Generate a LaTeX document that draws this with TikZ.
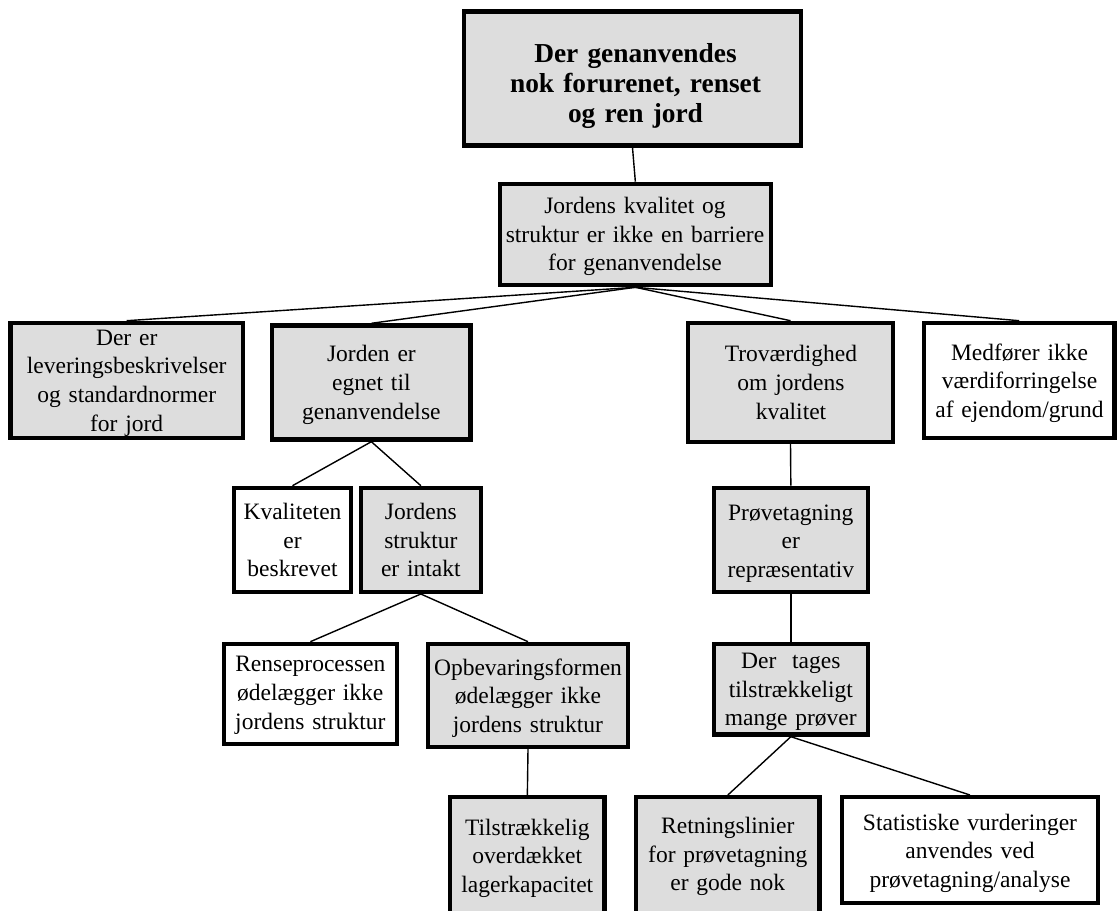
\documentclass[tikz,border=0pt]{standalone}
\usepackage{fontspec}
\setmainfont{Liberation Serif}
\definecolor{boxgray}{RGB}{221,221,221}
% \treebox{name}{style}{left}{top}{right}{bottom}: outer edges of a framed box
\newcommand\treebox[6]{%
  \node[#2, minimum width={(#5)-(#3)-4.3}, minimum height={(#6)-(#4)-4.3}]
    (#1) at ({((#3)+(#5))/2},{((#4)+(#6))/2}) {};}
\begin{document}
\begin{tikzpicture}[x=1pt,y=-1pt,
  box/.style={draw=black, line width=4.3pt, inner sep=0pt},
  graybox/.style={box, fill=boxgray},
  whitebox/.style={box, fill=white},
  lbl/.style={anchor=base, inner sep=0pt, align=center, text width=#1,
    font=\fontsize{23.5}{28.7}\selectfont},
  conn/.style={line width=1.4pt}]
\useasboundingbox (0,0) rectangle (1118,910);
\clip (0,0) rectangle (1118,910);

% boxes
\treebox{goal}{graybox}{462}{9.3}{803}{147.7}
\treebox{quality}{graybox}{497.7}{181.7}{773}{287.3}
\treebox{norms}{graybox}{8.3}{320.7}{245}{440}
\treebox{suited}{graybox}{270}{323.3}{472.7}{441.7}
\treebox{trust}{graybox}{686}{320.7}{895}{444}
\treebox{value}{whitebox}{921.7}{320.7}{1116.7}{440}
\treebox{described}{whitebox}{232}{485.7}{353}{594}
\treebox{intact}{graybox}{358.7}{485.7}{483}{594}
\treebox{cleaning}{whitebox}{221.7}{641.7}{399}{746}
\treebox{storage}{graybox}{426}{641.7}{630}{749}
\treebox{capacity}{graybox}{448}{795}{606.7}{925}
\treebox{sampling}{graybox}{711.7}{485.7}{870}{594}
\treebox{enough}{graybox}{711.7}{641.7}{870}{736.7}
\treebox{guidelines}{graybox}{634}{795}{821.7}{925}
\treebox{statistics}{whitebox}{840}{795}{1100}{905}

% connectors (their ends disappear under the thick frames)
\draw[conn] (goal.south) -- (quality.north);
\draw[conn] (quality.south) -- (norms.north);
\draw[conn] (quality.south) -- (suited.north);
\draw[conn] (quality.south) -- (trust.north);
\draw[conn] (quality.south) -- (value.north);
\draw[conn] (suited.south) -- (described.north);
\draw[conn] (suited.south) -- (intact.north);
\draw[conn] (intact.south) -- (cleaning.north);
\draw[conn] (intact.south) -- (storage.north);
\draw[conn] (storage.south) -- (capacity.north);
\draw[conn] (trust.south) -- (sampling.north);
\draw[conn] (sampling.south) -- (enough.north);
\draw[conn] (enough.south) -- (guidelines.north);
\draw[conn] (enough.south) -- (statistics.north);

% texts
\node[lbl=330, font=\bfseries\fontsize{27.4}{30}\selectfont] (goal-t) at (635.5,62)
  {Der genanvendes\\nok forurenet, renset\\og ren jord};
\node[lbl=270] (quality-t) at (635,213.3)
  {Jordens kvalitet og\\struktur er ikke en barriere\\for genanvendelse};
\node[lbl=230] (norms-t) at (126.7,345)
  {Der er\\leveringsbeskrivelser\\og standardnormer\\for jord};
\node[lbl=195] (suited-t) at (371.4,361.7)
  {Jorden er\\egnet til\\genanvendelse};
\node[lbl=200] (trust-t) at (791,361.7)
  {Troværdighed\\om jordens\\kvalitet};
\node[lbl=190] (value-t) at (1019.5,360)
  {Medfører ikke\\værdiforringelse\\af ejendom/grund};
\node[lbl=115] (described-t) at (292.5,519.3)
  {Kvaliteten\\er\\beskrevet};
\node[lbl=118] (intact-t) at (420.8,519.3)
  {Jordens\\struktur\\er intakt};
\node[lbl=172] (cleaning-t) at (310.3,671.7)
  {Renseprocessen\\ødelægger ikke\\jordens struktur};
\node[lbl=198] (storage-t) at (528,675)
  {Opbevaringsformen\\ødelægger ikke\\jordens struktur};
\node[lbl=152] (capacity-t) at (527.3,835)
  {Tilstrækkelig\\overdækket\\lagerkapacitet};
\node[lbl=152] (sampling-t) at (790.8,520)
  {Prøvetagning\\er\\repræsentativ};
\node[lbl=152] (enough-t) at (790.8,668.3)
  {Der\ \ tages\\tilstrækkeligt\\mange prøver};
\node[lbl=182] (guidelines-t) at (727.8,833.3)
  {Retningslinier\\for prøvetagning\\er gode nok};
\node[lbl=254] (statistics-t) at (970,830)
  {Statistiske vurderinger\\anvendes ved\\prøvetagning/analyse};
\end{tikzpicture}
\end{document}
